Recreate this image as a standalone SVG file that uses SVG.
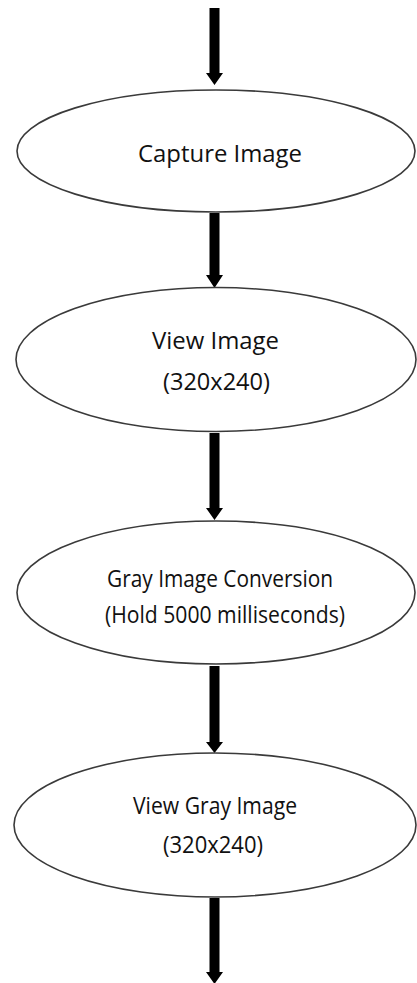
<svg xmlns="http://www.w3.org/2000/svg" width="417" height="983" viewBox="0 0 417 983">
<style>
.node ellipse{fill:#fff;stroke:#3a3a3a;stroke-width:1.6}
.node text{font-family:"Open Sans","Liberation Sans",sans-serif;font-size:24px;fill:#111;text-anchor:middle}
.conn path{fill:#000;stroke:none}
</style>
<rect width="417" height="983" fill="#fff"/>
<g id="connectors" class="conn">
<path d="M209.5,8 H219.5 V73 H223 L214.5,85 L206,73 H209.5 Z"/>
<path d="M209.5,213 H219.5 V275 H223 L214.5,288 L206,275 H209.5 Z"/>
<path d="M209.5,433 H219.5 V508 H223 L214.5,520 L206,508 H209.5 Z"/>
<path d="M209.5,666 H219.5 V742 H223 L214.5,753 L206,742 H209.5 Z"/>
<path d="M209.5,898 H219.5 V972 H223 L214.5,984 L206,972 H209.5 Z"/>
</g>
<g id="capture-image" class="node">
<ellipse cx="216" cy="151" rx="199" ry="61"/>
<text x="220" y="162" textLength="164" lengthAdjust="spacingAndGlyphs">Capture Image</text>
</g>
<g id="view-image" class="node">
<ellipse cx="216" cy="359.5" rx="200" ry="72"/>
<text x="215.5" y="349" textLength="127" lengthAdjust="spacingAndGlyphs">View Image</text>
<text x="216.5" y="390" textLength="107" lengthAdjust="spacingAndGlyphs">(320x240)</text>
</g>
<g id="gray-conversion" class="node">
<ellipse cx="216" cy="592.5" rx="199" ry="71.5"/>
<text x="220" y="587" textLength="226" lengthAdjust="spacingAndGlyphs">Gray Image Conversion</text>
<text x="225" y="623" textLength="240" lengthAdjust="spacingAndGlyphs">(Hold 5000 milliseconds)</text>
</g>
<g id="view-gray-image" class="node">
<ellipse cx="215" cy="825" rx="201" ry="72"/>
<text x="215" y="814" textLength="164" lengthAdjust="spacingAndGlyphs">View Gray Image</text>
<text x="213" y="853" textLength="100" lengthAdjust="spacingAndGlyphs">(320x240)</text>
</g>
</svg>
